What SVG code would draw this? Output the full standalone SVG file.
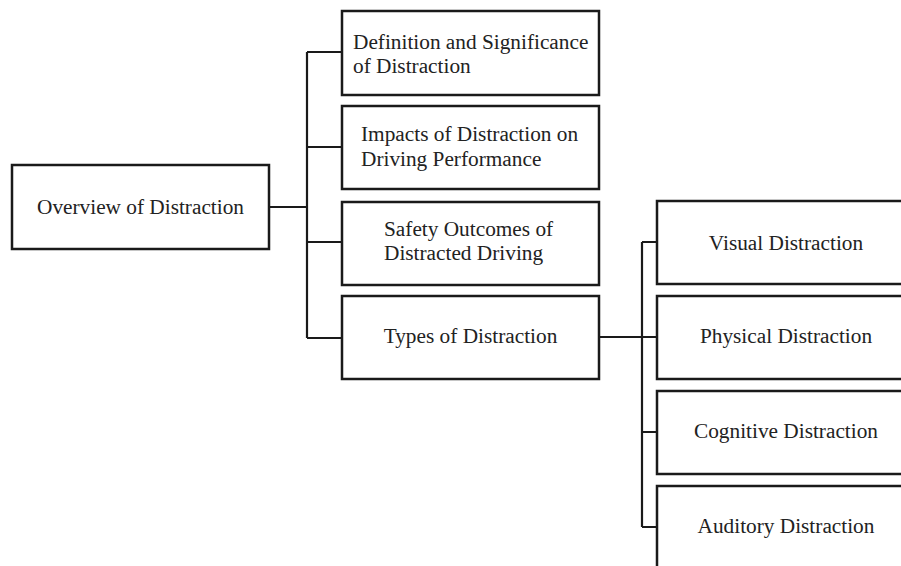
<svg xmlns="http://www.w3.org/2000/svg" width="901" height="566" viewBox="0 0 901 566">
<style>
.box{fill:#fff;stroke:#1a1a1a;stroke-width:2.5}
.lbl{font-family:"Liberation Serif","Times New Roman",serif;font-size:21.3px;fill:#222}
.c{text-anchor:middle}
.conn{fill:none;stroke:#1a1a1a;stroke-width:2.2}
</style>
<rect width="901" height="566" fill="#fff"/>
<g id="connectors">
<path class="conn" d="M269 207H307M307 52V338M307 52H342M307 147H342M307 242H342M307 338H342"/>
<path class="conn" d="M599 337H657M642 242V527M642 242H657M642 432H657M642 527H657"/>
</g>
<g id="overview">
<rect class="box" x="12" y="165" width="257" height="84"/>
<text class="lbl c" x="140.5" y="214">Overview of Distraction</text>
</g>
<g id="definition">
<rect class="box" x="342" y="11" width="257" height="84"/>
<text class="lbl" x="353" y="49">Definition and Significance</text>
<text class="lbl" x="353" y="73">of Distraction</text>
</g>
<g id="impacts">
<rect class="box" x="342" y="106" width="257" height="83"/>
<text class="lbl" x="361" y="141">Impacts of Distraction on</text>
<text class="lbl" x="361" y="166">Driving Performance</text>
</g>
<g id="safety">
<rect class="box" x="342" y="202" width="257" height="83"/>
<text class="lbl" x="384" y="236">Safety Outcomes of</text>
<text class="lbl" x="384" y="260">Distracted Driving</text>
</g>
<g id="types">
<rect class="box" x="342" y="296" width="257" height="83"/>
<text class="lbl c" x="470.5" y="343">Types of Distraction</text>
</g>
<g id="visual">
<rect class="box" x="657" y="201" width="260" height="83"/>
<text class="lbl c" x="786" y="250">Visual Distraction</text>
</g>
<g id="physical">
<rect class="box" x="657" y="296" width="260" height="83"/>
<text class="lbl c" x="786" y="343">Physical Distraction</text>
</g>
<g id="cognitive">
<rect class="box" x="657" y="391" width="260" height="83"/>
<text class="lbl c" x="786" y="438">Cognitive Distraction</text>
</g>
<g id="auditory">
<rect class="box" x="657" y="486" width="260" height="90"/>
<text class="lbl c" x="786" y="533">Auditory Distraction</text>
</g>
</svg>
